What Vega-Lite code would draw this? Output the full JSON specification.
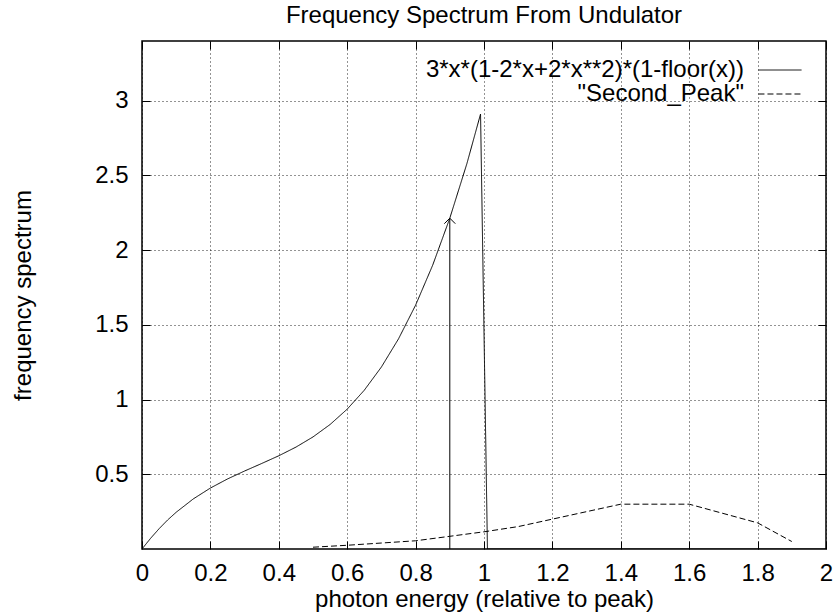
{
  "$schema": "https://vega.github.io/schema/vega-lite/v6.json",
  "width": 684,
  "height": 508,
  "autosize": "none",
  "padding": {"left": 142, "top": 41, "right": 9, "bottom": 63},
  "background": "white",
  "title": {
    "text": "Frequency Spectrum From Undulator",
    "font": "Liberation Sans",
    "fontSize": 24,
    "fontWeight": "normal",
    "color": "black",
    "anchor": "middle",
    "baseline": "alphabetic",
    "offset": 14,
    "dy": 20
  },
  "config": {
    "view": {"stroke": "black", "strokeWidth": 1.5},
    "axis": {
      "labelFont": "Liberation Sans",
      "labelFontSize": 24,
      "labelColor": "black",
      "titleFont": "Liberation Sans",
      "titleFontSize": 24,
      "titleFontWeight": "normal",
      "titleColor": "black",
      "domain": false,
      "tickColor": "black",
      "tickSize": -8,
      "tickWidth": 1,
      "gridColor": "black",
      "gridDash": [1, 3],
      "gridWidth": 1,
      "gridOpacity": 0.85
    }
  },
  "datasets": {
    "lines": [
      {"series": "3*x*(1-2*x+2*x**2)*(1-floor(x))", "x": 0, "y": 0},
      {"series": "3*x*(1-2*x+2*x**2)*(1-floor(x))", "x": 0.025, "y": 0.0712},
      {"series": "3*x*(1-2*x+2*x**2)*(1-floor(x))", "x": 0.05, "y": 0.1358},
      {"series": "3*x*(1-2*x+2*x**2)*(1-floor(x))", "x": 0.075, "y": 0.1944},
      {"series": "3*x*(1-2*x+2*x**2)*(1-floor(x))", "x": 0.1, "y": 0.246},
      {"series": "3*x*(1-2*x+2*x**2)*(1-floor(x))", "x": 0.15, "y": 0.3353},
      {"series": "3*x*(1-2*x+2*x**2)*(1-floor(x))", "x": 0.2, "y": 0.408},
      {"series": "3*x*(1-2*x+2*x**2)*(1-floor(x))", "x": 0.25, "y": 0.4688},
      {"series": "3*x*(1-2*x+2*x**2)*(1-floor(x))", "x": 0.3, "y": 0.522},
      {"series": "3*x*(1-2*x+2*x**2)*(1-floor(x))", "x": 0.35, "y": 0.5723},
      {"series": "3*x*(1-2*x+2*x**2)*(1-floor(x))", "x": 0.4, "y": 0.624},
      {"series": "3*x*(1-2*x+2*x**2)*(1-floor(x))", "x": 0.45, "y": 0.6818},
      {"series": "3*x*(1-2*x+2*x**2)*(1-floor(x))", "x": 0.5, "y": 0.75},
      {"series": "3*x*(1-2*x+2*x**2)*(1-floor(x))", "x": 0.55, "y": 0.8333},
      {"series": "3*x*(1-2*x+2*x**2)*(1-floor(x))", "x": 0.6, "y": 0.936},
      {"series": "3*x*(1-2*x+2*x**2)*(1-floor(x))", "x": 0.65, "y": 1.0628},
      {"series": "3*x*(1-2*x+2*x**2)*(1-floor(x))", "x": 0.7, "y": 1.218},
      {"series": "3*x*(1-2*x+2*x**2)*(1-floor(x))", "x": 0.75, "y": 1.4063},
      {"series": "3*x*(1-2*x+2*x**2)*(1-floor(x))", "x": 0.8, "y": 1.632},
      {"series": "3*x*(1-2*x+2*x**2)*(1-floor(x))", "x": 0.85, "y": 1.8998},
      {"series": "3*x*(1-2*x+2*x**2)*(1-floor(x))", "x": 0.9, "y": 2.214},
      {"series": "3*x*(1-2*x+2*x**2)*(1-floor(x))", "x": 0.95, "y": 2.5793},
      {"series": "3*x*(1-2*x+2*x**2)*(1-floor(x))", "x": 0.9899, "y": 2.911},
      {"series": "3*x*(1-2*x+2*x**2)*(1-floor(x))", "x": 1.0101, "y": 0},
      {"series": "3*x*(1-2*x+2*x**2)*(1-floor(x))", "x": 2, "y": 0},
      {"series": "\"Second_Peak\"", "x": 0.5, "y": 0.012},
      {"series": "\"Second_Peak\"", "x": 0.6, "y": 0.025},
      {"series": "\"Second_Peak\"", "x": 0.7, "y": 0.04},
      {"series": "\"Second_Peak\"", "x": 0.8, "y": 0.055},
      {"series": "\"Second_Peak\"", "x": 0.9, "y": 0.085},
      {"series": "\"Second_Peak\"", "x": 1.0, "y": 0.115},
      {"series": "\"Second_Peak\"", "x": 1.1, "y": 0.15},
      {"series": "\"Second_Peak\"", "x": 1.2, "y": 0.2},
      {"series": "\"Second_Peak\"", "x": 1.4, "y": 0.3},
      {"series": "\"Second_Peak\"", "x": 1.6, "y": 0.3},
      {"series": "\"Second_Peak\"", "x": 1.8, "y": 0.175},
      {"series": "\"Second_Peak\"", "x": 1.9, "y": 0.05}
    ],
    "arrow": [
      {"ax": 0.9, "base": 0, "tip": 2.214}
    ]
  },
  "layer": [
    {
      "data": {"name": "lines"},
      "mark": {"type": "line", "color": "black", "strokeWidth": 1, "clip": true},
      "encoding": {
        "x": {
          "field": "x", "type": "quantitative",
          "scale": {"domain": [0, 2], "nice": false, "zero": false},
          "axis": {
            "orient": "bottom",
            "values": [0, 0.2, 0.4, 0.6, 0.8, 1, 1.2, 1.4, 1.6, 1.8, 2],
            "format": "~g",
            "labelPadding": 20,
            "labelFlush": false,
            "title": "photon energy (relative to peak)",
            "titlePadding": 2
          }
        },
        "y": {
          "field": "y", "type": "quantitative",
          "scale": {"domain": [0, 3.4], "nice": false, "zero": false},
          "axis": {
            "orient": "left",
            "values": [0.5, 1, 1.5, 2, 2.5, 3],
            "format": "~g",
            "labelPadding": 22,
            "title": "frequency spectrum",
            "titlePadding": 59
          }
        },
        "strokeDash": {
          "field": "series", "type": "nominal",
          "scale": {
            "domain": ["3*x*(1-2*x+2*x**2)*(1-floor(x))", "\"Second_Peak\""],
            "range": [[1, 0], [6, 3]]
          },
          "legend": {
            "orient": "none",
            "legendX": 626,
            "legendY": 17,
            "title": null,
            "padding": 0,
            "symbolType": "M-4,0L4,0",
            "symbolSize": 116,
            "symbolStrokeColor": "black",
            "symbolStrokeWidth": 1,
            "symbolFillColor": "transparent",
            "labelAlign": "right",
            "labelOffset": -48,
            "labelFont": "Liberation Sans",
            "labelFontSize": 24,
            "labelColor": "black",
            "labelLimit": 1000,
            "rowPadding": 0
          }
        }
      }
    },
    {
      "data": {"name": "arrow"},
      "mark": {"type": "rule", "color": "black", "strokeWidth": 1},
      "encoding": {
        "x": {
          "field": "ax", "type": "quantitative",
          "axis": {
            "orient": "top",
            "values": [0, 0.2, 0.4, 0.6, 0.8, 1, 1.2, 1.4, 1.6, 1.8, 2],
            "labels": false, "grid": false, "title": null
          }
        },
        "y": {
          "field": "base", "type": "quantitative",
          "axis": {
            "orient": "right",
            "values": [0.5, 1, 1.5, 2, 2.5, 3],
            "labels": false, "grid": false, "title": null
          }
        },
        "y2": {"field": "tip"}
      }
    },
    {
      "data": {"name": "arrow"},
      "mark": {
        "type": "point",
        "shape": "M-1,1L0,0L1,1",
        "size": 121,
        "filled": false,
        "stroke": "black",
        "strokeWidth": 1,
        "opacity": 1
      },
      "encoding": {
        "x": {"field": "ax", "type": "quantitative", "axis": null},
        "y": {"field": "tip", "type": "quantitative", "axis": null}
      }
    }
  ],
  "resolve": {"axis": {"x": "independent", "y": "independent"}}
}
